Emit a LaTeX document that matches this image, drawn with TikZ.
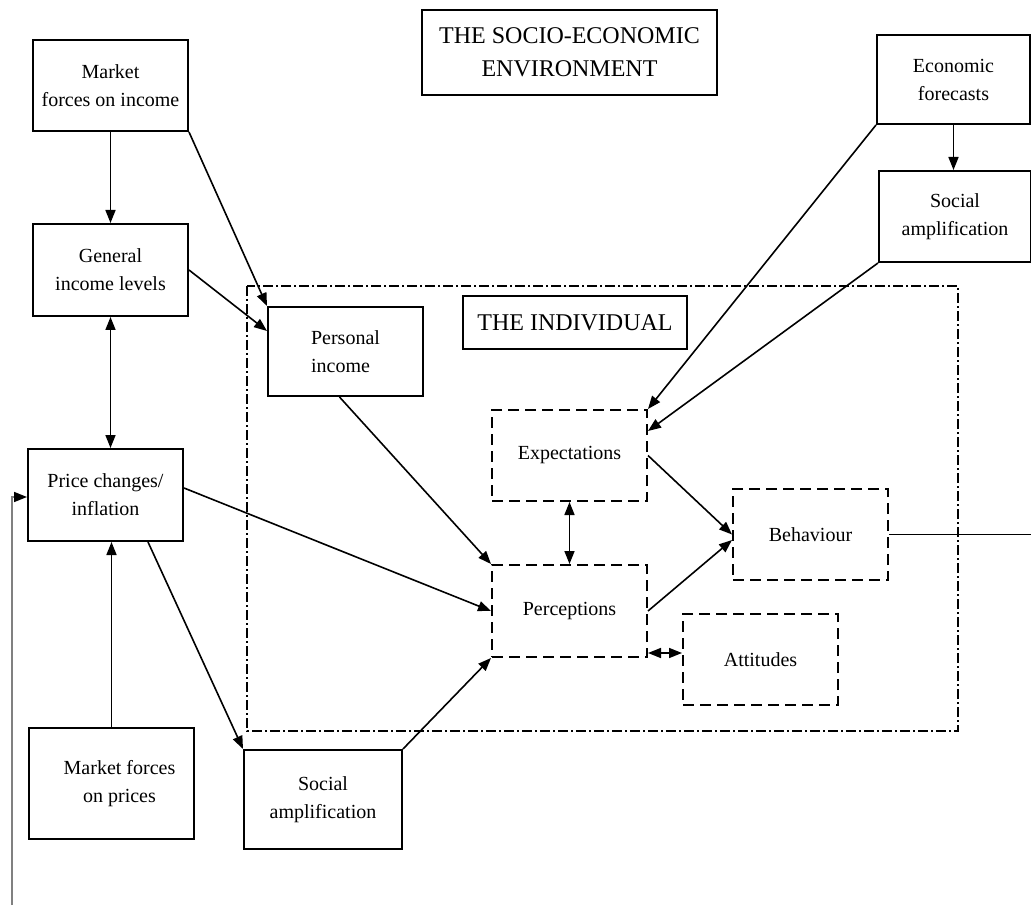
\documentclass[tikz,border=0pt]{standalone}
\usepackage{fontspec}
\setmainfont{Liberation Serif}
\usetikzlibrary{arrows.meta,calc}
\begin{document}
\begin{tikzpicture}[x=1pt,y=-1pt,
  box/.style={draw,line width=2pt,inner sep=0pt,align=center,font=\fontsize{20}{28}\selectfont},
  dbox/.style={box,dash pattern=on 11pt off 6pt},
  title/.style={draw,line width=2pt,inner sep=0pt,align=center,font=\fontsize{24}{33}\selectfont},
  arr/.style={line width=1.6pt,-{Triangle[length=13pt,width=10pt]}},
  darr/.style={line width=1.6pt,{Triangle[length=13pt,width=10pt]}-{Triangle[length=13pt,width=10pt]}},
  ln/.style={line width=1.6pt}
]
\useasboundingbox (0,0) rectangle (1031,917);
% individual frame
\draw[line width=1.5pt,dash pattern=on 10pt off 3pt on 2pt off 3pt] (247,286) rectangle (958,731);

\node[title,minimum width=295pt,minimum height=85pt] (socio) at (569.5,52.5) {THE SOCIO-ECONOMIC\\ENVIRONMENT};
\node[title,minimum width=224pt,minimum height=53pt] (ind) at (575,322.5) {THE INDIVIDUAL};

\node[box,minimum width=155pt,minimum height=91pt] (mfi) at (110.5,85.5) {Market\\forces on income};
\node[box,minimum width=155pt,minimum height=92pt] (gil) at (110.5,270) {General\\income levels};
\node[box,minimum width=155pt,minimum height=92pt] (pci) at (105.5,495) {Price changes/\\inflation};
\node[box,minimum width=165pt,minimum height=111pt] (mfp) at (111.5,783.5) {\hspace*{16pt}Market forces\\\hspace*{16pt}on prices};
\node[box,minimum width=158pt,minimum height=99pt] (sab) at (323,799.5) {Social\\amplification};
\node[box,minimum width=155pt,minimum height=89pt,align=left] (pi) at (345.5,351.5) {Personal\\income};
\node[box,minimum width=153pt,minimum height=89pt] (ef) at (953.5,79.5) {Economic\\forecasts};
\node[box,minimum width=152pt,minimum height=91pt] (sar) at (955,216.5) {Social\\amplification};

\node[dbox,minimum width=155pt,minimum height=91pt] (exp) at (569.5,455.5) {Expectations};
\node[dbox,minimum width=155pt,minimum height=92pt] (per) at (569.5,611) {Perceptions};
\node[dbox,minimum width=155pt,minimum height=91pt] (beh) at (810.5,534.5) {Behaviour};
\node[dbox,minimum width=155pt,minimum height=91pt] (att) at (760.5,659.5) {Attitudes};

% connectors
\draw[arr] (mfi.south) -- (gil.north);
\draw[arr] (mfi.south east) -- (pi.north west);
\draw[arr] (gil.east) -- ([yshift=-25pt]pi.north west);
\draw[darr] (gil.south) -- (gil.south |- pci.north);
\draw[arr] (mfp.north) -- (mfp.north |- pci.south);
\draw[arr] ($(pci.south east)+(-36,0)$) -- (sab.north west);
\draw[arr] ([yshift=7pt]pci.east) -- (per.west);
\draw[arr] (sab.north east) -- (per.south west);
\draw[arr] ([xshift=-6pt]pi.south) -- (per.north west);
\draw[darr] (exp.south) -- (per.north);
\draw[arr] (exp.east) -- (beh.west);
\draw[arr] (per.east) -- ([yshift=-5.5pt]beh.west);
\coordinate (pa) at ([yshift=-42pt]per.east);
\draw[darr] (pa) -- (pa -| att.west);
\draw[arr] (ef.south west) -- (exp.north east);
\draw[arr] (sar.south west) -- ([yshift=-22pt]exp.north east);
\draw[arr] (ef.south) -- (ef.south |- sar.north);
\coordinate (rend) at (1031,534.5);
\draw[ln] (beh.east) -- (beh.east -| rend);
\coordinate (lb) at (12,905);
\draw[line width=1.6pt,gray,-{Triangle[length=13pt,width=10pt,color=black]}] (lb) |- ([yshift=-2pt]pci.west);
\end{tikzpicture}
\end{document}
